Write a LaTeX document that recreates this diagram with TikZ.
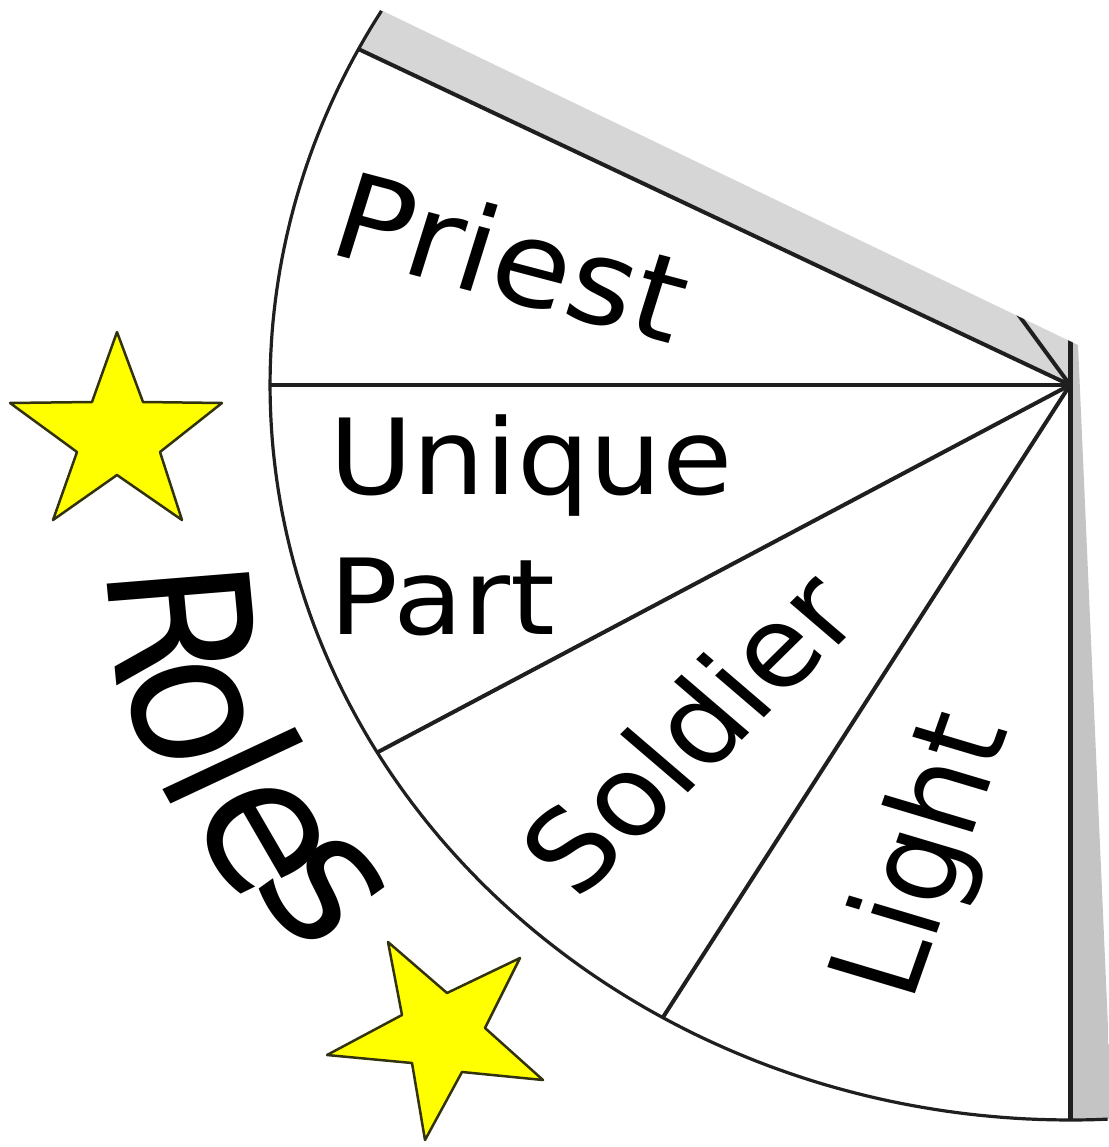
\documentclass[tikz,border=0pt]{standalone}
\usepackage{fontspec}
\setmainfont{DejaVu Sans}
\definecolor{greyA}{RGB}{214,214,214}
\definecolor{greyB}{RGB}{196,196,196}
\definecolor{staryellow}{RGB}{255,255,0}
\definecolor{staredge}{RGB}{50,50,15}
\begin{document}
\begin{tikzpicture}[x=1pt,y=-1pt,
  wedgeline/.style={line width=4pt, draw=black!88},
  rimline/.style={line width=3.2pt, draw=black!88},
  lbl/.style={font=\fontsize{105}{140}\selectfont, inner sep=0pt, transform shape},
  biglbl/.style={font=\fontsize{116}{140}\selectfont, inner sep=0pt, transform shape},
  roleletter/.style={font=\fontsize{180}{180}\selectfont, inner sep=0pt, transform shape},
  starshape/.style={fill=staryellow, draw=staredge, line width=2.5pt, line join=round}]
\useasboundingbox (0,0) rectangle (1108,1147);
% grey neighbouring wedges, cut by the crop edge
\begin{scope}
  \clip (237,-59) -- (1078,345) -- (1120,1300) -- (-100,1300) -- (-100,-59) -- cycle;
  \begin{scope}[shift={(1070,385)}, xscale=1.0884]
    \fill[greyA] (0,0) -- plot[domain=207.2:270, samples=60] ({735*cos(\x)},{735*sin(\x)}) -- cycle;
    \fill[greyB] (0,0) -- plot[domain=270:450, samples=120] ({735*cos(\x)},{735*sin(\x)}) -- cycle;
    \coordinate (g0) at (0,0);
    \coordinate (g236) at (236:735);
    \coordinate (g270) at (270:735);
    \draw[wedgeline] (g0) -- (g236);
    \draw[wedgeline, line width=5pt] (g0) -- (g270);
  \end{scope}
\end{scope}
% the white wedge
\begin{scope}[shift={(1070,385)}, xscale=1.0884]
  \coordinate (C) at (0,0);
  \coordinate (a90) at (90:735);
  \coordinate (a120) at (120.6:735);
  \coordinate (a150) at (150:735);
  \coordinate (a180) at (180:735);
  \coordinate (a207) at (207.2:735);
  \draw[rimline] plot[domain=87.3:210.6, samples=150] ({735*cos(\x)},{735*sin(\x)});
  \draw[wedgeline] (C) -- (a120);
  \draw[wedgeline] (C) -- (a150);
  \draw[wedgeline] (C) -- (a180);
  \draw[wedgeline] (C) -- (a207);
  \draw[wedgeline, line width=5pt] (C) -- (a90);
  % labels
  \node[biglbl, font=\fontsize{118}{140}\selectfont, rotate=-16] (priest) at (-512.7,-129) {Priest};
  \node[lbl, anchor=west, align=left] (unique) at (-680.8,140) {Unique\\Part};
  \node[biglbl, font=\fontsize{112}{140}\selectfont, rotate=47] (soldier) at (-351,347) {Soldier};
  \node[biglbl, rotate=72] (light) at (-131,472) {Light};
  % curved title
  \node[roleletter, rotate=-85] (rR) at (-815.0,238) {R};
  \node[roleletter, rotate=-75] (rO) at (-810.4,327) {o};
  \node[roleletter, rotate=-63] (rL) at (-769.0,381) {l};
  \node[roleletter, rotate=-62] (rE) at (-742.0,451) {e};
  \node[roleletter, rotate=-52] (rS) at (-686.0,505) {s};
\end{scope}
% stars
\draw[starshape] (117,332) -- (143,402) -- (222,403) -- (160,452) -- (182,520)
  -- (117,475) -- (53,520) -- (77,452) -- (10,403) -- (92,402) -- cycle;
\draw[starshape] (388,942) -- (447,993) -- (520,958) -- (485,1028) -- (543,1080)
  -- (462,1072) -- (425,1140) -- (412,1063) -- (327,1055) -- (402,1015) -- cycle;
\end{tikzpicture}
\end{document}
